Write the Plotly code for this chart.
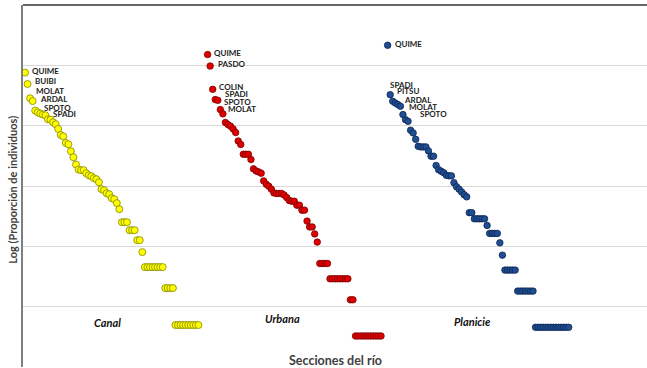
import plotly.graph_objects as go

# ---------------- data (log10 of species proportion, ranked) ----------------
canal_log = [-0.560, -0.655, -0.773, -0.796, -0.875, -0.889, -0.900, -0.908, -0.914, -0.947,
             -0.950, -0.972, -0.988, -1.027, -1.077, -1.088, -1.143, -1.154, -1.212, -1.262,
             -1.322, -1.363, -1.369, -1.369, -1.394, -1.411, -1.419, -1.435, -1.444, -1.469,
             -1.526, -1.535, -1.560, -1.568, -1.601, -1.609, -1.642, -1.692, -1.800, -1.800,
             -1.800, -1.866, -1.866, -1.866, -1.949, -1.949, -2.048,
             -2.172, -2.172, -2.172, -2.172, -2.172, -2.172, -2.172, -2.172,
             -2.346, -2.346, -2.346, -2.346,
             -2.652, -2.652, -2.652, -2.652, -2.652, -2.652, -2.652, -2.652, -2.652, -2.652]

urbana_log = [-0.411, -0.506, -0.699, -0.784, -0.790, -0.867, -0.902, -0.974, -0.991, -1.005,
              -1.027, -1.057, -1.127, -1.156, -1.237, -1.237, -1.237, -1.281, -1.358, -1.375,
              -1.383, -1.394, -1.458, -1.485, -1.502, -1.526, -1.557, -1.562, -1.562, -1.562,
              -1.574, -1.595, -1.620, -1.626, -1.626, -1.659, -1.659, -1.700, -1.700, -1.791,
              -1.839, -1.839, -1.897, -1.965,
              -2.142, -2.142, -2.142, -2.142,
              -2.269, -2.269, -2.269, -2.269, -2.269, -2.269, -2.269, -2.269,
              -2.443, -2.443,
              -2.743, -2.743, -2.743, -2.743, -2.743, -2.743, -2.743, -2.743, -2.743, -2.743, -2.743]

planicie_log = [-0.334, -0.743, -0.798, -0.812, -0.825, -0.839, -0.908, -0.950, -0.964, -1.038,
                -1.060, -1.113, -1.171, -1.176, -1.176, -1.176, -1.209, -1.253, -1.253, -1.330,
                -1.365, -1.378, -1.390, -1.411, -1.416, -1.416, -1.473, -1.506, -1.526, -1.549,
                -1.572, -1.590, -1.721, -1.721,
                -1.772, -1.772, -1.772, -1.772, -1.772,
                -1.827,
                -1.893, -1.893, -1.893, -1.893,
                -1.971, -2.073,
                -2.197, -2.197, -2.197, -2.197, -2.197,
                -2.371, -2.371, -2.371, -2.371, -2.371, -2.371, -2.371,
                -2.671, -2.671, -2.671, -2.671, -2.671, -2.671, -2.671, -2.671, -2.671, -2.671,
                -2.671, -2.671, -2.671, -2.671]

section_names = ["Canal", "Urbana", "Planicie"]

canal_labels = ["QUIME", "BUIBI", "MOLAT", "ARDAL", "SPOTO", "SPADI"]
canal_label_idx = [0, 1, 2, 3, 4, 7]
urbana_labels = ["QUIME", "PASDO", "COLIN", "SPADI", "SPOTO", "MOLAT"]
urbana_label_idx = [0, 1, 2, 3, 4, 5]
planicie_labels = ["QUIME", "SPADI", "PITSU", "ARDAL", "MOLAT", "SPOTO"]
planicie_label_idx = [0, 1, 2, 3, 4, 5]

# ---------------- layout / style ----------------
GAPS = [0.0, 2.6, 1.6]        # rank gap before each section
COLORS = [("#FFFF00", "#858500", 7), ("#E00000", "#7a0000", 6.5), ("#1F4E93", "#0b2550", 6.5)]
LABEL_OFFSETS = [
    [(5, -2), (5, -3), (4, -7), (5, -2), (7, -3), (8, -1)],
    [(4.3, -1.6), (5.4, -2), (3.9, -2), (7.6, -5.3), (4.1, 2), (5.2, -0.6)],
    [(5.7, -1.7), (-1.9, -9.3), (2.6, -10.3), (6.6, -3.4), (9.1, 2.4), (17.2, 7.3)],
]
SECTION_LABEL_POS = [(32.4, -2.628), (100.8, -2.600), (175.5, -2.622)]

series = [canal_log, urbana_log, planicie_log]
labels = [(canal_labels, canal_label_idx), (urbana_labels, urbana_label_idx),
          (planicie_labels, planicie_label_idx)]

fig = go.Figure()
annotations = []
start = 0.0
for s, (vals, (fill, edge, size), (labs, idxs), offs) in enumerate(
        zip(series, COLORS, labels, LABEL_OFFSETS)):
    start += GAPS[s]
    xs = [start + i for i in range(len(vals))]
    start = xs[-1] + 1
    fig.add_trace(go.Scatter(
        x=xs, y=vals, mode="markers", name=section_names[s],
        marker=dict(color=fill, size=size, line=dict(color=edge, width=0.8)),
        showlegend=False, hoverinfo="skip"))
    for lab, i, (dx, dy) in zip(labs, idxs, offs):
        annotations.append(dict(
            x=xs[i], y=vals[i], xref="x", yref="y", text=lab, showarrow=False,
            xanchor="left", yanchor="middle", xshift=dx, yshift=-dy,
            font=dict(family="Lato", size=8, color="#222222", weight="bold")))

for name, (lx, ly) in zip(section_names, SECTION_LABEL_POS):
    annotations.append(dict(
        x=lx, y=ly, xref="x", yref="y", text="<b><i>" + name + "</i></b>",
        showarrow=False, xanchor="center", yanchor="middle",
        font=dict(family="Lato", size=11, color="#111111")))

annotations.append(dict(
    x=0.5, y=0.0175, xref="paper", yref="paper", text="Secciones del río",
    showarrow=False, xanchor="center", yanchor="middle",
    font=dict(family="Lato", size=12.5, color="#404040", weight="bold")))
annotations.append(dict(
    x=-0.016, y=0.49, xref="paper", yref="paper", text="Log (Proporción de individuos)",
    showarrow=False, xanchor="center", yanchor="middle", textangle=-90,
    font=dict(family="Lato", size=11, color="#404040", weight="bold")))

fig.update_layout(
    width=647, height=368,
    margin=dict(l=23, r=0, t=5, b=1),
    paper_bgcolor="white", plot_bgcolor="white",
    annotations=annotations,
    xaxis=dict(range=[-0.784, 243.9], showgrid=False, zeroline=False,
               showticklabels=False, showline=False, ticks=""),
    yaxis=dict(range=[-3, 0], dtick=0.5, showgrid=True, gridcolor="#d9d9d9", gridwidth=1,
               zeroline=False, showticklabels=False, ticks="",
               showline=True, linecolor="#7f7f7f", linewidth=2),
    shapes=[dict(type="line", xref="paper", yref="paper", x0=0, x1=1, y0=1, y1=1,
                 line=dict(color="#666666", width=2))],
)

fig.write_html("out.html", config={"displayModeBar": False},
               post_script="document.body.style.margin='0px';document.body.style.overflow='hidden';")
